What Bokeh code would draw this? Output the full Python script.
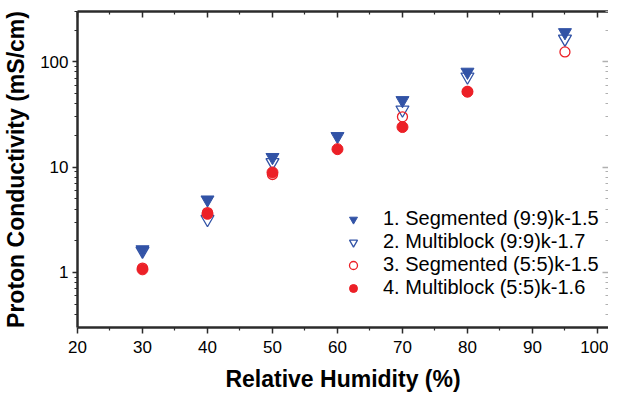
from bokeh.plotting import figure
from bokeh.models import (FixedTicker, LinearAxis, LogAxis, Legend, LegendItem,
                          PrintfTickFormatter, CustomJSTickFormatter, Range1d)
from bokeh.embed import file_html
from bokeh.resources import INLINE

# ---- data ----
rh1 = [30, 40, 50, 60, 70, 80, 95]
s1 = [1.65, 4.9, 12.4, 19.6, 43, 80, 190]          # 1. Segmented (9:9)k-1.5
rh2 = [30, 40, 50, 70, 80, 95]
s2 = [1.6, 3.2, 11.1, 35, 72, 165]                 # 2. Multiblock (9:9)k-1.7
rh3 = [30, 40, 50, 70, 80, 95]
s3 = [1.1, 3.7, 8.5, 30, 52, 124]                  # 3. Segmented (5:5)k-1.5
rh4 = [30, 40, 50, 60, 70, 80]
s4 = [1.07, 3.6, 8.9, 14.8, 24, 52]                # 4. Multiblock (5:5)k-1.6

names = ["1. Segmented (9:9)k-1.5", "2. Multiblock (9:9)k-1.7",
         "3. Segmented (5:5)k-1.5", "4. Multiblock (5:5)k-1.6"]

x_major = [20, 30, 40, 50, 60, 70, 80, 90, 100]
x_minor = [25, 35, 45, 55, 65, 75, 85, 95]
y_major = [1, 10, 100]
y_minor = [0.4, 0.5, 0.6, 0.7, 0.8, 0.9, 2, 3, 4, 5, 6, 7, 8, 9,
           20, 30, 40, 50, 60, 70, 80, 90, 200, 300]

BLUE = "#3253a6"
RED = "#ec2027"
AX = "#2b2b2b"
FONT = "Liberation Sans"

p = figure(width=608, height=394, y_axis_type="log",
           x_range=Range1d(20, 101.7), y_range=Range1d(0.3, 300),
           output_backend="svg", toolbar_location=None,
           min_border_left=69, min_border_top=11, min_border_bottom=52,
           min_border_right=0, min_border=0)
p.outline_line_color = None
p.xgrid.grid_line_color = None
p.ygrid.grid_line_color = None
p.background_fill_color = "white"

r1 = p.scatter(rh1, s1, marker="inverted_triangle", size=13,
               fill_color=BLUE, line_color=BLUE, line_width=1)
r2 = p.scatter(rh2, s2, marker="inverted_triangle", size=13,
               fill_color=None, line_color=BLUE, line_width=1.3)
r3 = p.scatter(rh3, s3, marker="circle", size=10,
               fill_color=None, line_color=RED, line_width=1.3)
r4 = p.scatter(rh4, s4, marker="circle", size=11,
               fill_color=RED, line_color=RED, line_width=1)

xt = FixedTicker(ticks=x_major, minor_ticks=x_minor)
yt = FixedTicker(ticks=y_major, minor_ticks=y_minor)

def style(ax, color=AX, width=2.5):
    ax.axis_line_color = color
    ax.axis_line_width = width
    ax.major_tick_line_color = color
    ax.minor_tick_line_color = color
    ax.major_tick_line_width = 1.5
    ax.minor_tick_line_width = 1.2

xa = p.xaxis[0]
xa.ticker = xt
style(xa)
xa.major_tick_out = 6
xa.major_tick_in = 0
xa.minor_tick_out = 3
xa.minor_tick_in = 0
xa.major_label_text_font = FONT
xa.major_label_text_font_size = "17px"
xa.major_label_text_color = "black"
xa.major_label_standoff = 7
xa.axis_label = "Relative Humidity (%)"
xa.axis_label_text_font = FONT
xa.axis_label_text_font_size = "23px"
xa.axis_label_text_font_style = "bold"
xa.axis_label_text_color = "black"
xa.axis_label_standoff = 10

ya = p.yaxis[0]
ya.ticker = yt
ya.formatter = PrintfTickFormatter(format="%d")
style(ya)
ya.major_tick_out = 5
ya.major_tick_in = 0
ya.minor_tick_out = 3
ya.minor_tick_in = 0
ya.major_label_text_font = FONT
ya.major_label_text_font_size = "17px"
ya.major_label_text_color = "black"
ya.major_label_standoff = 4
ya.axis_label = "Proton Conductivity (mS/cm)"
ya.axis_label_text_font = FONT
ya.axis_label_text_font_size = "23px"
ya.axis_label_text_font_style = "bold"
ya.axis_label_text_color = "black"
ya.axis_label_standoff = 8

blank = CustomJSTickFormatter(code="return '';")

top = LinearAxis(ticker=FixedTicker(ticks=x_major, minor_ticks=x_minor),
                 formatter=blank)
style(top)
top.major_tick_in = 6
top.major_tick_out = 0
top.minor_tick_in = 3
top.minor_tick_out = 0
top.major_label_standoff = 0
top.major_label_text_font_size = "1px"
p.add_layout(top, "above")

right = LogAxis(ticker=FixedTicker(ticks=y_major, minor_ticks=y_minor),
                formatter=blank)
style(right, color="#b0b0b0", width=1)
right.major_tick_in = 6
right.major_tick_out = 0
right.minor_tick_in = 3
right.minor_tick_out = 0
right.major_label_standoff = 0
right.major_label_text_font_size = "1px"
p.add_layout(right, "right")

legend = Legend(items=[LegendItem(label=n, renderers=[r]) for n, r in
                       zip(names, [r1, r2, r3, r4])],
                location=(261, 28), orientation="vertical")
legend.background_fill_alpha = 0
legend.border_line_color = None
legend.margin = 0
legend.padding = 0
legend.spacing = 0
legend.glyph_width = 30
legend.glyph_height = 20
legend.label_height = 20
legend.label_standoff = 15
legend.label_text_font = FONT
legend.label_text_font_size = "20px"
legend.label_text_color = "black"
p.add_layout(legend, "center")

open("out.html", "w").write(file_html(p, INLINE))
